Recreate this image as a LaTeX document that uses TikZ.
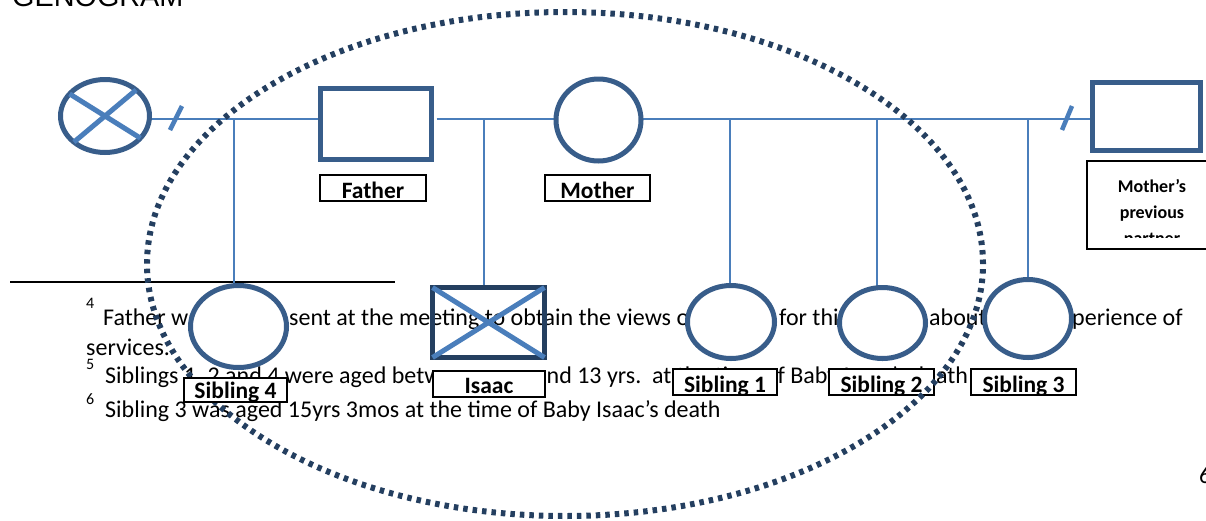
\documentclass[tikz,border=0pt]{standalone}
\usepackage{fontspec}
\setmainfont{Carlito}
\newfontfamily\arialfont{Liberation Sans}
\usetikzlibrary{shapes.geometric}
\pgfdeclarelayer{background}
\pgfdeclarelayer{foreground}
\pgfsetlayers{background,main,foreground}
\definecolor{shapeblue}{HTML}{385D8A}
\definecolor{lineblue}{HTML}{4A7EBB}
\definecolor{navy}{HTML}{243F60}
\begin{document}
\begin{tikzpicture}[x=1pt,y=-1pt,
  gshape/.style={draw=shapeblue, line width=5pt, fill=white, inner sep=0pt, outer sep=0pt},
  circ/.style={gshape, ellipse},
  gbox/.style={gshape, rectangle},
  conn/.style={draw=lineblue, line width=1.7pt},
  slashmark/.style={draw=lineblue, line width=4.5pt},
  crossln/.style={draw=lineblue, line width=5pt},
  lbl/.style={draw=black, line width=1.8pt, fill=white, inner sep=0pt, anchor=base,
    font=\fontsize{23.5pt}{23.5pt}\selectfont\bfseries},
  body/.style={inner sep=0pt, anchor=base west, font=\fontsize{24pt}{24pt}\selectfont},
  supr/.style={inner sep=0pt, anchor=base west, font=\fontsize{16pt}{16pt}\selectfont},
  dotring/.style={draw=navy, line width=6pt, dash pattern=on 4.5pt off 5pt},
]
\useasboundingbox (0,0) rectangle (1206,520);

% ---------- shapes (main layer)
\node[circ, minimum width=89pt, minimum height=73pt] (X) at (105,116) {};
\draw[crossln] (X.148) -- (X.328) (X.220) -- (X.40);
\node[gbox, minimum width=111pt, minimum height=71pt] (F) at (376,124) {};
\node[circ, minimum width=85pt, minimum height=82pt] (M) at (598.5,120) {};
\node[gbox, minimum width=108pt, minimum height=68pt] (P) at (1146.5,116.5) {};
\node[circ, minimum width=96pt, minimum height=82pt] (S4) at (238.5,326.5) {};
\node[gbox, draw=navy, fill=none, minimum width=112pt, minimum height=70pt] (I) at (488.5,322.5) {};
\draw[crossln] (I.north west) -- (I.south east) (I.south west) -- (I.north east);
\node[circ, minimum width=87pt, minimum height=73pt] (S1) at (731,322) {};
\node[circ, minimum width=86pt, minimum height=71pt] (S2) at (882.5,323) {};
\node[circ, minimum width=87pt, minimum height=78pt] (S3) at (1028,318.5) {};

% ---------- labels
\node[lbl, minimum width=106pt, text height=23pt, text depth=3pt] (Fl) at (373,198) {Father};
\node[lbl, minimum width=105pt, text height=23pt, text depth=3pt] (Ml) at (597.5,198) {Mother};
\node[lbl, minimum width=112pt, text height=22pt, text depth=4pt] (Il) at (489,393) {Isaac};
\node[lbl, minimum width=104pt, text height=23pt, text depth=3pt] (S1l) at (725,392) {Sibling 1};
\node[lbl, minimum width=105pt, text height=23pt, text depth=3pt] (S2l) at (881.5,392) {Sibling 2};
\node[lbl, minimum width=105pt, text height=23pt, text depth=3pt] (S3l) at (1023.5,392) {Sibling 3};

\node[draw=black, line width=1.8pt, fill=white, inner sep=0pt,
  minimum width=127pt, minimum height=88pt] (Pl) at (1150.5,205) {};
\coordinate (clipb) at (0,237);
\begin{scope}
  \clip (Pl.north west) rectangle (Pl.east |- clipb);
  \node[anchor=north, inner sep=0pt, align=center,
    font=\fontsize{18pt}{26pt}\selectfont\bfseries] (Plt) at (1152,179.5)
    {Mother’s\\previous\\partner};
\end{scope}

% ---------- text and connectors (background layer)
\begin{pgfonlayer}{background}
  \node[inner sep=0pt, anchor=base west, font=\arialfont\fontsize{28.8pt}{28.8pt}\selectfont]
    (title) at (12,6) {GENOGRAM};

  \coordinate (sepL) at (10,282);
  \coordinate (sepR) at (395,282);
  \draw[black, line width=1.3pt] (sepL) -- (sepR);

  \node[supr] (n4) at (86,308) {4};
  \node[body] (t1a) at (103,325) {Father was};
  \node[body] (t1b) at (289,325) {sent at the meeting to obtain the views of};
  \node[body] (t1c) at (779,325) {for this};
  \node[body] (t1d) at (929,325) {about};
  \node[body] (t1e) at (1072,325) {perience of};
  \node[body] (t2) at (86,355) {services.};
  \node[supr] (n5) at (86,369) {5};
  \node[body] (t3a) at (105,383) {Siblings 1, 2 and 4 were aged between};
  \node[body] (t3b) at (535,383) {and 13 yrs.\ \ at the time of Baby Isaac’s death};
  \node[supr] (n6) at (86,404) {6};
  \node[body] (t4) at (105,417) {Sibling 3 was aged 15yrs 3mos at the time of Baby Isaac’s death};
  \node[body] (pg) at (1199,483) {6};

  \coordinate (h) at (0,119);
  \coordinate (Fe) at ([xshift=5pt]F.east);
  \draw[conn] (X.east |- h) -- (F.west |- h);
  \draw[conn] (Fe |- h) -- (M.west |- h);
  \draw[conn] (M.east |- h) -- (P.west |- h);

  \coordinate (j4) at (234,119);
  \coordinate (ji) at (484,119);
  \coordinate (j1) at (730,119);
  \coordinate (j2) at (877,119);
  \coordinate (j3) at (1028,119);
  \draw[conn] (j4) -- (j4 |- S4.north);
  \draw[conn] (ji) -- (ji |- I.north);
  \draw[conn] (j1) -- (j1 |- S1.north);
  \draw[conn] (j2) -- (j2 |- S2.north);
  \draw[conn] (j3) -- (j3 |- S3.north);

  \coordinate (sl1) at (176,118);
  \coordinate (sl2) at (1067,118);
  \draw[slashmark] (sl1) +(-6,12) -- +(6,-12);
  \draw[slashmark] (sl2) +(-5,12) -- +(5,-12);
\end{pgfonlayer}

% ---------- dotted ring and the label above it
\begin{pgfonlayer}{foreground}
  \draw[dotring] (565,264) ellipse [x radius=418pt, y radius=252pt];
  \node[lbl, minimum width=103pt, text height=20pt, text depth=4pt] (S4l) at (235.5,398) {Sibling 4};
\end{pgfonlayer}
\end{tikzpicture}
\end{document}
